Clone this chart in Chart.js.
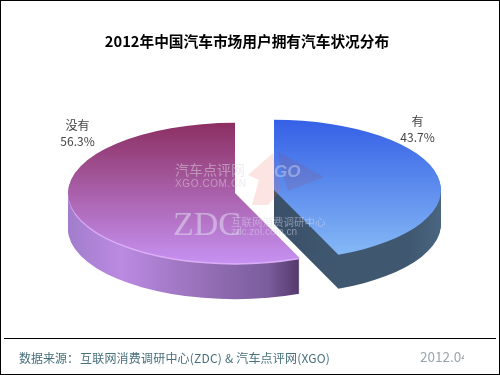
<!DOCTYPE html>
<html>
<head>
<meta charset="utf-8">
<title>2012年中国汽车市场用户拥有汽车状况分布</title>
<script src="https://cdn.jsdelivr.net/npm/chart.js@4/dist/chart.umd.min.js"></script>
<style>
    html, body { margin: 0; padding: 0; background: #fff; }
    #wrap { position: relative; width: 500px; height: 375px; overflow: hidden; }
</style>
</head>
<body>
<div id="wrap"><canvas id="pie" width="500" height="375"></canvas></div>
<script>
// Chart data
const categories = ['有', '没有'];
const shares = [43.7, 56.3];
const chartTitle = '2012年中国汽车市场用户拥有汽车状况分布';
const sourceLabel = '数据来源：';
const sourceText = '互联网消费调研中心(ZDC) & 汽车点评网(XGO)';
const dateText = '2012.04';

const cjkFont = '"Noto Sans CJK SC", "Noto Sans", sans-serif';

// Look of each slice: centre after exploding, label spot and colours
const sliceStyles = [
    {
        cx: 274, cy: 190, depth: 34, label: [417.5, 121],
        top: ['#3560e6', '#88bcf6'],
        wall: [[0.5, '#3a4f68'], [0.69, '#3f5870'], [0.9, '#3f5870'], [1, '#4a6580']],
        rim: null
    },
    {
        cx: 235, cy: 193, depth: 36, label: [77.5, 125],
        top: ['#8c2f62', '#c691f2'],
        wall: [[0, '#a27dcc'], [0.16, '#bb8ae2'], [0.45, '#8f6bb0'], [0.6, '#7a5c9c'], [0.69, '#553a6c']],
        rim: '#dcaef6'
    }
];
const squash = 0.42;

function drawArc(ctx, arc, style, lift, fill) {
    let saved = arc.options;
    let options = Object.create(saved);
    options.backgroundColor = fill;
    arc.options = options;
    ctx.save();
    ctx.translate(style.cx, style.cy + lift);
    ctx.scale(1, squash);
    ctx.translate(-arc.x, -arc.y);
    arc.draw(ctx);
    ctx.restore();
    arc.options = saved;
}

// Flatten the arcs into ellipses and stack them to get the thick side
const pie3d = {
    id: 'pie3d',
    beforeDatasetsDraw(chart) {
        const ctx = chart.ctx;
        chart.getDatasetMeta(0).data.forEach((arc, i) => {
            const style = sliceStyles[i];
            const r = arc.outerRadius;

            let wall = ctx.createLinearGradient(arc.x - r, 0, arc.x + r, 0);
            style.wall.forEach(stop => wall.addColorStop(stop[0], stop[1]));
            for (let d = style.depth; d > 0; d--) {
                drawArc(ctx, arc, style, d, wall);
            }
            if (style.rim) {
                drawArc(ctx, arc, style, 1.5, style.rim);
            }

            let top = ctx.createLinearGradient(0, arc.y - r, 0, arc.y + r);
            top.addColorStop(0, style.top[0]);
            top.addColorStop(1, style.top[1]);
            drawArc(ctx, arc, style, 0, top);
        });
        return false;
    },
    afterDraw(chart) {
        const ctx = chart.ctx;

        // slice labels
        ctx.save();
        ctx.fillStyle = '#444';
        ctx.textAlign = 'center';
        ctx.textBaseline = 'middle';
        ctx.font = '12px ' + cjkFont;
        categories.forEach((name, i) => {
            const pos = sliceStyles[i].label;
            ctx.fillText(name, pos[0], pos[1]);
            ctx.fillText(shares[i].toFixed(1) + '%', pos[0], pos[1] + 16);
        });
        ctx.restore();

        drawWatermark(ctx);
        drawFooter(ctx);
    }
};

function fillShape(ctx, color, points) {
    ctx.fillStyle = color;
    ctx.beginPath();
    points.forEach(p => ctx.lineTo(p[0], p[1]));
    ctx.closePath();
    ctx.fill();
}

function drawWatermark(ctx) {
    ctx.save();

    // faint XGO logo: arrow, triangle and the GO letters
    fillShape(ctx, 'rgba(235, 95, 85, 0.17)', [[273, 153], [281, 190], [268, 205], [252, 205], [259, 180], [248, 175]]);
    fillShape(ctx, 'rgba(150, 70, 90, 0.16)', [[278, 152], [324, 177], [288, 191], [281, 170]]);
    ctx.textBaseline = 'middle';
    ctx.fillStyle = 'rgba(255, 255, 255, 0.32)';
    ctx.font = 'italic bold 17px "Liberation Sans", sans-serif';
    ctx.fillText('GO', 274, 172);

    ctx.fillStyle = 'rgba(225, 215, 225, 0.5)';
    ctx.font = '14px ' + cjkFont;
    ctx.fillText('汽车点评网', 175, 170);
    ctx.font = '10px "Liberation Sans", sans-serif';
    ctx.letterSpacing = '0.6px';
    ctx.fillText('XGO.COM.CN', 175, 184);
    ctx.letterSpacing = '0px';
    ctx.fillStyle = 'rgba(225, 220, 240, 0.55)';
    ctx.font = '34px "Liberation Serif", serif';
    ctx.fillText('ZDC', 173, 226);
    ctx.fillStyle = 'rgba(215, 215, 235, 0.5)';
    ctx.font = '10.5px ' + cjkFont;
    ctx.fillText('互联网消费调研中心', 231, 222);
    ctx.font = '10px "Liberation Sans", sans-serif';
    ctx.fillText('zdc.zol.com.cn', 231, 232);
    ctx.restore();
}

function drawFooter(ctx) {
    ctx.save();

    // outer frame and the rule over the source line
    ctx.strokeStyle = '#000';
    ctx.lineWidth = 1;
    ctx.strokeRect(0.5, 0.5, 499, 374);
    ctx.beginPath();
    ctx.moveTo(4, 338.5);
    ctx.lineTo(496, 338.5);
    ctx.stroke();

    ctx.fillStyle = '#48707c';
    ctx.textBaseline = 'middle';
    ctx.font = '12px ' + cjkFont;
    ctx.save();
    ctx.beginPath();
    ctx.rect(0, 345, 329, 28);
    ctx.clip();
    ctx.fillText(sourceLabel, 19, 358);
    ctx.letterSpacing = '0.2px';
    ctx.fillText(sourceText, 80, 358);
    ctx.restore();

    // the date runs into the edge of the picture in the original
    ctx.beginPath();
    ctx.rect(415, 345, 49, 28);
    ctx.clip();
    ctx.fillStyle = '#9aa6ab';
    ctx.font = '13.5px ' + cjkFont;
    ctx.fillText(dateText, 420, 357);
    ctx.restore();
}

new Chart(document.getElementById('pie'), {
    type: 'pie',
    data: {
        labels: categories,
        datasets: [{
            data: shares,
            borderWidth: 0
        }]
    },
    options: {
        responsive: false,
        animation: false,
        radius: 167,
        layout: { padding: { right: 6 } },
        plugins: {
            legend: { display: false },
            tooltip: { enabled: false },
            title: {
                display: true,
                text: chartTitle,
                color: '#000',
                font: { family: cjkFont, size: 14.7, weight: 'bold' },
                padding: { top: 33, bottom: 10 }
            }
        }
    },
    plugins: [pie3d]
});
</script>
</body>
</html>
